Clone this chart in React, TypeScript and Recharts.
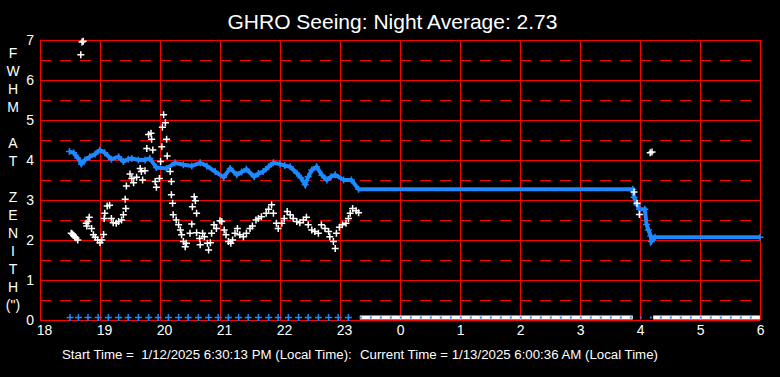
import React from 'react';
import {
  ComposedChart,
  Line,
  Scatter,
  XAxis,
  YAxis,
  CartesianGrid,
  ReferenceLine,
} from 'recharts';

// ---- Data (hours since midnight of start day; 24+ = next morning) ----
const hourTicks = [18, 19, 20, 21, 22, 23, 24, 25, 26, 27, 28, 29, 30];
const fwhmTicks = [0, 1, 2, 3, 4, 5, 6, 7];
const halfTicks = [0.5, 1.5, 2.5, 3.5, 4.5, 5.5, 6.5];

const title = 'GHRO Seeing: Night Average: 2.73';
const startText = 'Start Time =  1/12/2025 6:30:13 PM (Local Time):';
const currentText = 'Current Time = 1/13/2025 6:00:36 AM (Local Time)';
const yLabelChars = ['F', 'W', 'H', 'M', '', 'A', 'T', '', 'Z', 'E', 'N', 'I', 'T', 'H', '(")'];

// Smoothed (blue) seeing
const blueHours = [
  18.49, 18.56, 18.63, 18.69, 18.75, 18.83, 18.92, 19.0, 19.08, 19.19, 19.31, 19.39,
  19.47, 19.53, 19.64, 19.75, 19.83, 19.94, 20.11, 20.25, 20.39, 20.53, 20.67, 20.78,
  20.92, 21.06, 21.17, 21.28, 21.36, 21.44, 21.57, 21.64, 21.72, 21.81, 21.89, 22.0,
  22.08, 22.17, 22.28, 22.35, 22.42, 22.47, 22.53, 22.61, 22.7, 22.78, 22.85, 22.92,
  23.06, 23.19, 23.31, 27.88, 27.9, 27.95, 27.99, 28.08, 28.11, 28.14, 28.18, 28.19,
  28.25, 30.0,
];
const blueFwhm = [
  4.21, 4.18, 4.05, 3.9, 4.0, 4.08, 4.15, 4.25, 4.18, 4.02, 4.08, 3.96,
  4.02, 4.04, 4.0, 4.0, 4.04, 3.81, 3.79, 3.93, 3.88, 3.85, 3.93, 3.85,
  3.71, 3.57, 3.79, 3.63, 3.7, 3.77, 3.58, 3.66, 3.71, 3.83, 3.93, 3.9,
  3.86, 3.83, 3.67, 3.55, 3.38, 3.58, 3.75, 3.83, 3.62, 3.5, 3.58, 3.63,
  3.5, 3.5, 3.27, 3.27, 3.07, 2.88, 2.77, 2.77, 2.39, 2.25, 2.1, 1.96,
  2.07, 2.07,
];

// Raw (white) seeing measurements
const whiteHours = [
  18.52, 18.54, 18.56, 18.58, 18.6, 18.63, 18.68, 18.7, 18.72, 18.77, 18.78, 18.8,
  18.82, 18.86, 18.89, 18.92, 18.96, 19.0, 19.03, 19.06, 19.07, 19.08, 19.12, 19.16,
  19.19, 19.22, 19.27, 19.31, 19.36, 19.39, 19.42, 19.43, 19.44, 19.5, 19.53, 19.56,
  19.61, 19.67, 19.69, 19.71, 19.75, 19.78, 19.81, 19.85, 19.86, 19.88, 19.92, 19.94,
  19.99, 20.01, 20.03, 20.04, 20.06, 20.09, 20.11, 20.12, 20.17, 20.19, 20.19, 20.21,
  20.22, 20.27, 20.31, 20.34, 20.36, 20.39, 20.42, 20.44, 20.5, 20.53, 20.54, 20.57,
  20.59, 20.61, 20.61, 20.66, 20.67, 20.71, 20.74, 20.79, 20.81, 20.84, 20.86, 20.9,
  20.94, 21.0, 21.03, 21.07, 21.1, 21.14, 21.18, 21.21, 21.25, 21.29, 21.33, 21.39,
  21.44, 21.5, 21.54, 21.6, 21.64, 21.69, 21.77, 21.81, 21.86, 21.89, 21.94, 21.97,
  22.03, 22.07, 22.12, 22.17, 22.22, 22.28, 22.33, 22.39, 22.44, 22.47, 22.53, 22.58,
  22.64, 22.69, 22.75, 22.81, 22.83, 22.89, 22.92, 22.94, 22.99, 23.04, 23.1, 23.14,
  23.17, 23.21, 23.27, 23.31, 27.9, 27.95, 27.99, 28.17, 28.2,
];
const whiteFwhm = [
  2.17, 2.15, 2.12, 2.08, 2.05, 2.0, 6.63, 6.95, 6.97, 2.42, 2.35, 2.46,
  2.57, 2.29, 2.13, 2.07, 2.0, 1.93, 2.0, 2.14, 2.54, 2.67, 2.85, 2.87,
  2.54, 2.43, 2.42, 2.46, 2.5, 2.63, 3.02, 2.79, 3.35, 3.65, 3.54, 3.43,
  3.57, 3.79, 3.71, 3.5, 3.73, 4.29, 4.64, 4.67, 4.52, 4.25, 3.46, 3.32,
  3.54, 3.96, 4.33, 4.82, 5.13, 4.93, 4.52, 4.1, 3.71, 3.46, 3.13, 2.92,
  2.63, 2.5, 2.38, 2.25, 2.13, 1.96, 1.83, 1.92, 2.17, 2.4, 2.83, 3.08,
  2.98, 2.67, 2.18, 2.04, 1.88, 2.17, 2.08, 1.92, 1.75, 1.93, 2.17, 2.38,
  2.29, 2.48, 2.46, 2.25, 2.13, 1.96, 1.92, 2.0, 2.17, 2.29, 2.13, 2.08,
  2.17, 2.29, 2.35, 2.5, 2.54, 2.58, 2.67, 2.77, 2.88, 2.67, 2.42, 2.29,
  2.42, 2.54, 2.71, 2.63, 2.54, 2.46, 2.43, 2.5, 2.57, 2.38, 2.25, 2.21,
  2.17, 2.38, 2.29, 2.21, 2.08, 1.96, 1.79, 2.17, 2.32, 2.38, 2.42, 2.54,
  2.67, 2.79, 2.73, 2.68, 3.2, 2.92, 2.64, 4.18, 4.2,
];

// Markers sitting on the zero line
const zeroLevel = 0.06;
const blueZeroHours = [
  18.5, 18.64, 18.8, 18.97, 19.14, 19.31, 19.47, 19.64, 19.81, 19.97, 20.14, 20.31,
  20.47, 20.64, 20.81, 20.97, 21.14, 21.31, 21.47, 21.64, 21.81, 21.97, 22.14, 22.31,
  22.47, 22.64, 22.81, 22.97, 23.14,
];
const whiteZeroSpanA = [23.33, 27.88];
const whiteZeroSpanB = [28.22, 30.0];
const blueZeroSpan = [23.33, 30.0];

// ---- Derived tables ----
const blueData = blueHours.map((h, i) => ({ h, v: blueFwhm[i] }));
const whiteData = whiteHours.map((h, i) => ({ h, v: whiteFwhm[i] }));
const blueZeroData = blueZeroHours.map((h) => ({ h, v: zeroLevel }));
const whiteZeroA = whiteZeroSpanA.map((h) => ({ h, v: zeroLevel }));
const whiteZeroB = whiteZeroSpanB.map((h) => ({ h, v: zeroLevel }));
const blueZeroLine = blueZeroSpan.map((h) => ({ h, v: zeroLevel }));

const FONT = '"Liberation Sans", Arial, Helvetica, sans-serif';
const BLUE = '#1e88ff';
const RED = '#ff0000';

const makeCross = (color: string) => (props: any) => {
  const { cx, cy } = props;
  if (cx == null || cy == null) return <g />;
  const r = 3.5;
  return (
    <path
      d={`M${cx - r},${cy}H${cx + r}M${cx},${cy - r}V${cy + r}`}
      stroke={color}
      strokeWidth={1.5}
      fill="none"
    />
  );
};
const WhiteCross = makeCross('#ffffff');
const BlueCross = makeCross(BLUE);

const XTick = (props: any) => {
  const { x, y, payload } = props;
  return (
    <text x={x - 3.3} y={y + 7} fill="#ffffff" fontSize={14} fontFamily={FONT} textAnchor="start">
      {String(payload.value % 24)}
    </text>
  );
};

export default function App() {
  return (
    <div
      style={{
        position: 'absolute',
        left: 0,
        top: 0,
        width: 780,
        height: 377,
        background: '#000',
        fontFamily: FONT,
      }}
    >
      <style>{`.recharts-cartesian-grid line, .recharts-reference-line line { shape-rendering: crispEdges; }`}</style>
      <ComposedChart
        width={780}
        height={377}
        margin={{ top: 40, right: 20, bottom: 27, left: 0 }}
      >
        <CartesianGrid stroke={RED} strokeWidth={1} fill="none" />
        {halfTicks.map((y) => (
          <ReferenceLine
            key={y}
            y={y}
            stroke={RED}
            strokeWidth={1}
            strokeDasharray="11 9"
            ifOverflow="visible"
          />
        ))}
        <XAxis
          type="number"
          dataKey="h"
          domain={[18, 30]}
          ticks={hourTicks}
          height={30}
          axisLine={false}
          tickLine={false}
          tick={<XTick />}
          interval={0}
        />
        <YAxis
          type="number"
          domain={[0, 7]}
          ticks={fwhmTicks}
          width={40}
          axisLine={false}
          tickLine={false}
          tickMargin={0}
          tick={{ fill: '#ffffff', fontSize: 14, fontFamily: FONT }}
          interval={0}
        />
        <Line
          data={whiteZeroA}
          dataKey="v"
          stroke="#ffffff"
          strokeWidth={4}
          dot={false}
          isAnimationActive={false}
        />
        <Line
          data={whiteZeroB}
          dataKey="v"
          stroke="#ffffff"
          strokeWidth={4}
          dot={false}
          isAnimationActive={false}
        />
        <Line
          data={blueZeroLine}
          dataKey="v"
          stroke={BLUE}
          strokeWidth={2}
          strokeDasharray="2 8"
          dot={false}
          isAnimationActive={false}
        />
        <Scatter data={blueZeroData} dataKey="v" shape={BlueCross} isAnimationActive={false} />
        <Line
          data={blueData}
          dataKey="v"
          stroke={BLUE}
          strokeWidth={4}
          dot={false}
          isAnimationActive={false}
        />
        <Scatter data={blueData} dataKey="v" shape={BlueCross} isAnimationActive={false} />
        <Scatter data={whiteData} dataKey="v" shape={WhiteCross} isAnimationActive={false} />
        <text x={392.5} y={29} textAnchor="middle" fill="#ffffff" fontSize={21} fontFamily={FONT}>
          {title}
        </text>
        {yLabelChars.map((c, i) =>
          c ? (
            <text
              key={i}
              x={13}
              y={57.7 + i * 18.05}
              textAnchor="middle"
              fill="#ffffff"
              fontSize={14}
              fontFamily={FONT}
            >
              {c}
            </text>
          ) : null
        )}
        <text x={62} y={359} fill="#ffffff" fontSize={13.25} fontFamily={FONT} style={{ whiteSpace: 'pre' }}>
          {startText}
        </text>
        <text x={360} y={359} fill="#ffffff" fontSize={13.25} fontFamily={FONT} style={{ whiteSpace: 'pre' }}>
          {currentText}
        </text>
      </ComposedChart>
    </div>
  );
}
